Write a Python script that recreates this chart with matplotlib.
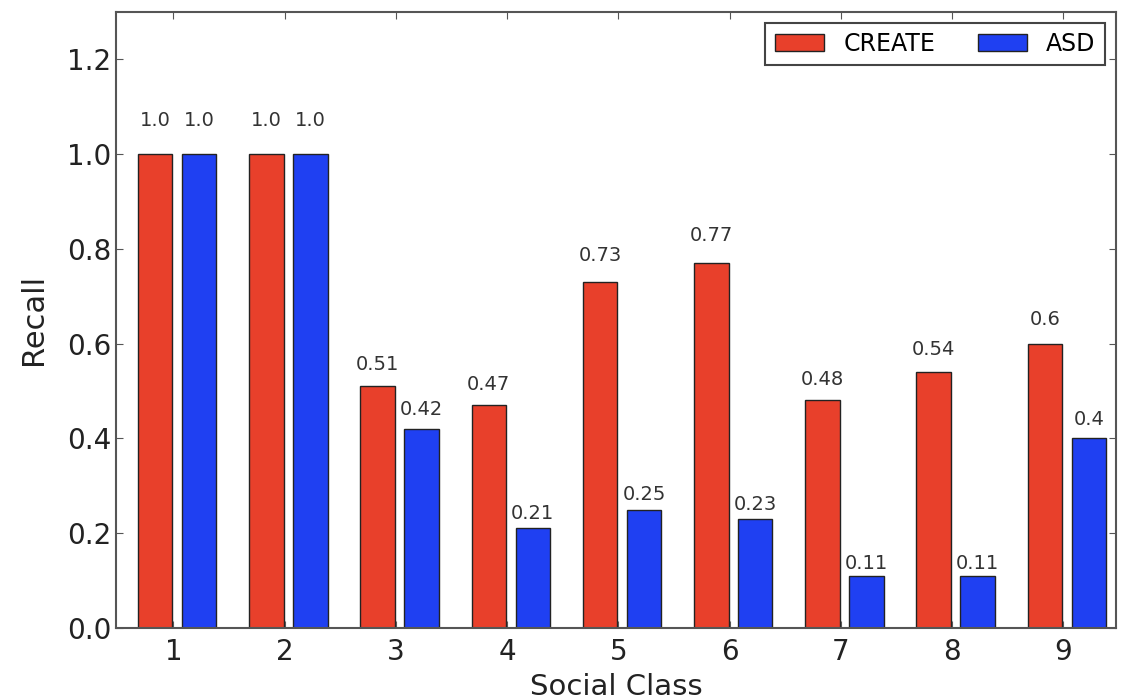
import numpy as np
import matplotlib
matplotlib.use('Agg')
import matplotlib.pyplot as plt

# Recall per social class for both methods
classes = [1, 2, 3, 4, 5, 6, 7, 8, 9]
create_recall = [1.0, 1.0, 0.51, 0.47, 0.73, 0.77, 0.48, 0.54, 0.6]
asd_recall = [1.0, 1.0, 0.42, 0.21, 0.25, 0.23, 0.11, 0.11, 0.4]

red = '#e8402b'
blue = '#1f40f2'
width = 0.31

fig = plt.figure(figsize=(11.28, 6.99), dpi=100)
ax = fig.add_axes([0.103, 0.1016, 0.886, 0.8814])

x = np.array(classes)
bars1 = ax.bar(x - 0.165, create_recall, width, color=red, edgecolor='#222222', linewidth=1, label='CREATE')
bars2 = ax.bar(x + 0.23, asd_recall, width, color=blue, edgecolor='#222222', linewidth=1, label='ASD')

# value labels just above each bar
for bars, vals in ((bars1, create_recall), (bars2, asd_recall)):
    for b, v in zip(bars, vals):
        ax.text(b.get_x() + b.get_width() / 2, 1.05 * v, str(v),
                ha='center', va='bottom', fontsize=14, color='#333333')

ax.set_xlim(0.485, 9.47)
ax.set_ylim(0, 1.3)
ax.set_xticks(classes)
ax.set_yticks([0.0, 0.2, 0.4, 0.6, 0.8, 1.0, 1.2])
ax.tick_params(direction='in', top=True, right=True, labelsize=20, length=5, colors='#555555', labelcolor='#222222')
ax.tick_params(axis='x', pad=7)
for s in ax.spines.values():
    s.set_color('#555555')
    s.set_linewidth(1.5)

ax.set_xlabel('Social Class', fontsize=21, color='#222222', labelpad=5)
ax.set_ylabel('Recall', fontsize=22, color='#222222', labelpad=14)

leg = ax.legend(loc='upper right', ncol=2, fontsize=17, fancybox=False, framealpha=1,
                handlelength=2.1, handleheight=0.7, handletextpad=0.8,
                columnspacing=1.8, borderaxespad=0.45)
leg.get_frame().set_edgecolor('#444444')
leg.get_frame().set_linewidth(1.5)

fig.savefig('out.png', dpi=100)
